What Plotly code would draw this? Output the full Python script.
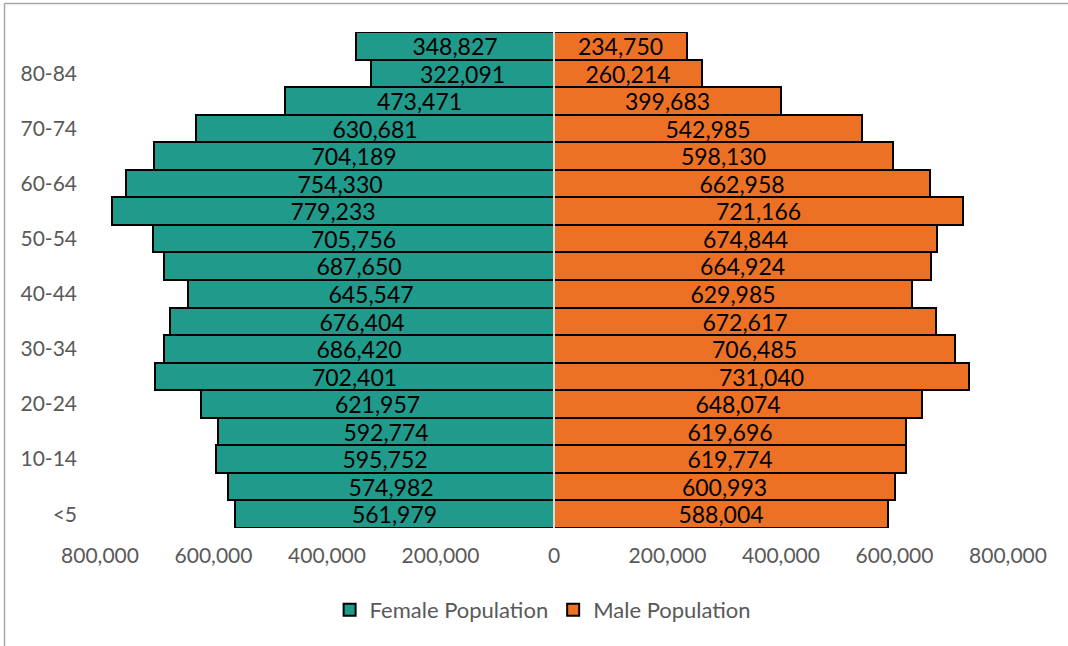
import plotly.graph_objects as go

age_groups = ["<5", "5-9", "10-14", "15-19", "20-24", "25-29", "30-34", "35-39",
              "40-44", "45-49", "50-54", "55-59", "60-64", "65-69", "70-74",
              "75-79", "80-84", "85+"]
female_pop = [561979, 574982, 595752, 592774, 621957, 702401, 686420, 676404,
              645547, 687650, 705756, 779233, 754330, 704189, 630681, 473471,
              322091, 348827]
male_pop = [588004, 600993, 619774, 619696, 648074, 731040, 706485, 672617,
            629985, 664924, 674844, 721166, 662958, 598130, 542985, 399683,
            260214, 234750]
x_ticks = [-800000, -600000, -400000, -200000, 0, 200000, 400000, 600000, 800000]
y_ticks = age_groups[::2]

FONT = "Lato"
TEAL = "#209A8A"
ORANGE = "#EC7124"

fig = go.Figure()
fig.add_trace(go.Bar(
    y=age_groups, x=[-v for v in female_pop], orientation="h",
    name="Female Population", marker=dict(color=TEAL, line=dict(color="black", width=2)),
    text=[f"{v:,}" for v in female_pop], textposition="inside",
    insidetextanchor="middle", textangle=0, constraintext="none",
    textfont=dict(family=FONT, size=23, color="black"), hoverinfo="skip",
))
fig.add_trace(go.Bar(
    y=age_groups, x=male_pop, orientation="h",
    name="Male Population", marker=dict(color=ORANGE, line=dict(color="black", width=2)),
    text=[f"{v:,}" for v in male_pop], textposition="inside",
    insidetextanchor="middle", textangle=0, constraintext="none",
    textfont=dict(family=FONT, size=23, color="black"), hoverinfo="skip",
))

L, R, T, B = 100, 60, 32, 118
W, H = 1068, 646
pw, ph = W - L - R, H - T - B

fig.update_layout(
    width=W, height=H,
    margin=dict(l=L, r=R, t=T, b=B),
    barmode="relative", bargap=0,
    plot_bgcolor="white", paper_bgcolor="white",
    font=dict(family=FONT, color="#595959", size=21),
    xaxis=dict(
        range=[-800000, 800000], tickvals=x_ticks,
        ticktext=[f"{abs(v):,}" for v in x_ticks],
        showgrid=False, zeroline=False, showline=False,
        ticks="", ticklabelstandoff=13,
        tickfont=dict(family=FONT, size=21, color="#595959"),
        fixedrange=True,
    ),
    yaxis=dict(
        type="category", categoryorder="array", categoryarray=age_groups,
        tickvals=y_ticks, ticktext=y_ticks,
        showgrid=False, zeroline=False, showline=False, ticks="",
        ticklabelstandoff=22,
        tickfont=dict(family=FONT, size=21, color="#595959"),
        fixedrange=True,
    ),
    legend=dict(
        orientation="h", x=0.488, xanchor="center", y=(T + ph - 610) / ph,
        yanchor="middle", font=dict(family=FONT, size=22, color="#595959"),
        itemsizing="constant", itemwidth=30,
    ),
    shapes=[
        dict(type="line", xref="x", yref="paper", x0=0, x1=0, y0=0, y1=1,
             line=dict(color="#D9D9D9", width=2), layer="above"),
        dict(type="line", xref="paper", yref="paper",
             x0=(4.5 - L) / pw, x1=(4.5 - L) / pw,
             y0=(T + ph - 3.5) / ph, y1=(T + ph - 650) / ph,
             line=dict(color="#A6A6A6", width=1.5)),
        dict(type="line", xref="paper", yref="paper",
             x0=(4.5 - L) / pw, x1=(1070 - L) / pw,
             y0=(T + ph - 3.5) / ph, y1=(T + ph - 3.5) / ph,
             line=dict(color="#A6A6A6", width=1.5)),
    ],
)

fig.write_html("out.html")
